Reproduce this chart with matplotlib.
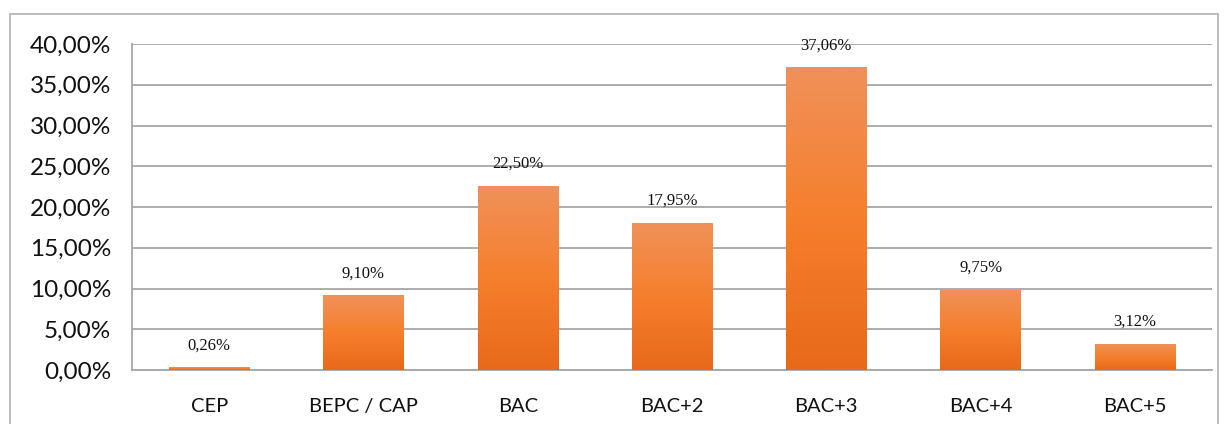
import numpy as np
import matplotlib.pyplot as plt
from matplotlib.colors import LinearSegmentedColormap
from matplotlib.patches import Rectangle

categories = ['CEP', 'BEPC / CAP', 'BAC', 'BAC+2', 'BAC+3', 'BAC+4', 'BAC+5']
values = [0.26, 9.10, 22.50, 17.95, 37.06, 9.75, 3.12]
yticks = [0, 5, 10, 15, 20, 25, 30, 35, 40]

def fr(v):
    return ('%.2f' % v).replace('.', ',') + '%'

fig = plt.figure(figsize=(12.28, 4.24), dpi=100)
fig.patches.append(Rectangle((10 / 1228, -0.01), 1208 / 1228, 1 - 14 / 424 + 0.01,
                             transform=fig.transFigure, fill=False,
                             edgecolor='#B0B0B0', linewidth=1.2))
ax = fig.add_axes([132 / 1228, 1 - 370 / 424, 1080 / 1228, 326 / 424])

cmap = LinearSegmentedColormap.from_list('org', ['#E8691A', '#F57F2C', '#F0915A'])
grad = np.linspace(0, 1, 256).reshape(-1, 1)
x = np.arange(len(categories))
w = 0.52
for xi, v in zip(x, values):
    ax.imshow(grad, cmap=cmap, origin='lower', aspect='auto',
              extent=(xi - w / 2, xi + w / 2, 0, v), zorder=3)
    ax.text(xi, v + 1.8, fr(v), ha='center', va='bottom',
            family='Liberation Serif', fontsize=12, color='#111111', zorder=4)

ax.set_xlim(-0.5, len(categories) - 0.5)
ax.set_ylim(0, 40)
ax.set_yticks(yticks)
ax.set_yticklabels([fr(t) for t in yticks], family='Lato', fontsize=17.5, color='#111111')
ax.set_xticks(x)
ax.set_xticklabels(categories, family='Lato', fontsize=14.5, color='#111111')
ax.tick_params(length=0)
ax.tick_params(axis='y', pad=15)
ax.tick_params(axis='x', pad=20)
ax.yaxis.grid(True, color='#A6A6A6', linewidth=1.3, zorder=0)
ax.set_axisbelow(True)
for s in ['top', 'right']:
    ax.spines[s].set_visible(False)
for s in ['left', 'bottom']:
    ax.spines[s].set_color('#A6A6A6')
    ax.spines[s].set_linewidth(1.3)

fig.savefig('out.png', dpi=100)
